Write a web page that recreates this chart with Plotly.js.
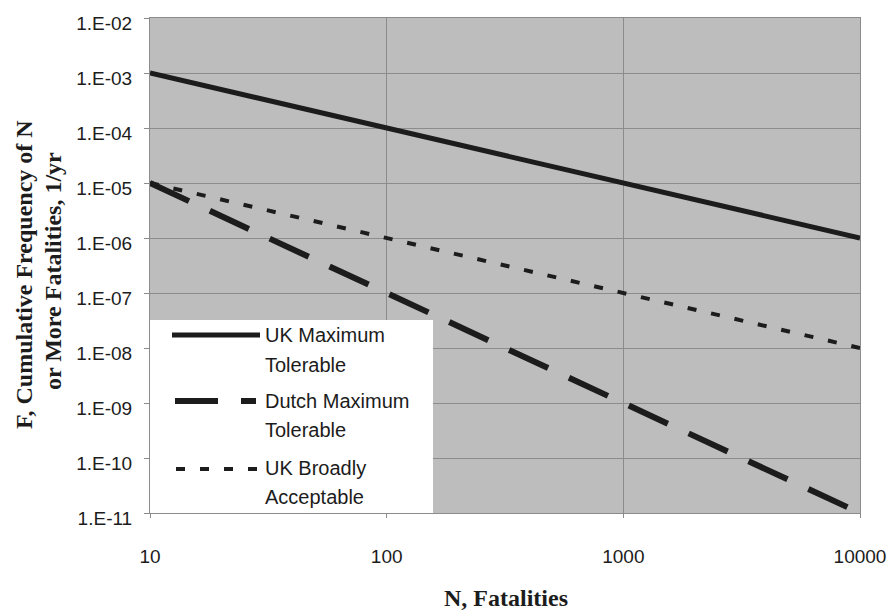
<!DOCTYPE html>
<html>
<head>
<meta charset="utf-8">
<script src="https://cdn.plot.ly/plotly-3.0.1.min.js"></script>
<style>html,body{margin:0;padding:0;background:#fff;}#chart{width:895px;height:612px;}</style>
</head>
<body>
<div id="chart"></div>
<script>
// ---- data ----
var fatalities = [10, 100, 1000, 10000];
var ukMaxTolerable = [1e-3, 1e-4, 1e-5, 1e-6];
var dutchMaxTolerable = [1e-5, 1e-7, 1e-9, 1e-11];
var ukBroadlyAcceptable = [1e-5, 1e-6, 1e-7, 1e-8];
var seriesNames = ['UK Maximum|Tolerable', 'Dutch Maximum|Tolerable', 'UK Broadly|Acceptable'];
var xTickVals = [10, 100, 1000, 10000];
var xTickText = ['10', '100', '1000', '10000'];
var yTickVals = [1e-11, 1e-10, 1e-9, 1e-8, 1e-7, 1e-6, 1e-5, 1e-4, 1e-3, 1e-2];
var yTickText = ['1.E-11', '1.E-10', '1.E-09', '1.E-08', '1.E-07', '1.E-06', '1.E-05', '1.E-04', '1.E-03', '1.E-02'];
var xTitle = 'N, Fatalities';
var yTitleLines = ['F, Cumulative Frequency of N', 'or More Fatalities, 1/yr'];

// ---- layout geometry (pixels) ----
var W = 895, H = 612, L = 150, R = 35, T = 18, B = 99;
var PW = W - L - R, PH = H - T - B;
function px(x) { return (x - L) / PW; }
function py(y) { return (T + PH - y) / PH; }

var ink = '#1c1c1c';
var dashes = ['solid', '43px,23px', '9px,15px'];
var widths = [5, 6, 4];
var series = [ukMaxTolerable, dutchMaxTolerable, ukBroadlyAcceptable];

var traces = series.map(function (s, i) {
  return {
    x: fatalities, y: s, type: 'scatter', mode: 'lines',
    name: seriesNames[i].replace('|', ' '),
    line: { color: ink, width: widths[i], dash: dashes[i] },
    hoverinfo: 'x+y'
  };
});

// manual legend
var legendBox = { x0: 150, x1: 433, y0: 320, y1: 513 };
var sampleRows = [335, 401, 469];
var sampleX = [[172, 260], [175, 256], [176, 257]];
var textRows = [[335, 365], [401, 430], [468, 497]];

var shapes = [{
  type: 'rect', xref: 'paper', yref: 'paper', layer: 'above',
  x0: px(legendBox.x0), x1: px(legendBox.x1), y0: py(legendBox.y1), y1: py(legendBox.y0),
  fillcolor: '#ffffff', line: { width: 0 }
}];
var annotations = [];
seriesNames.forEach(function (nm, i) {
  shapes.push({
    type: 'line', xref: 'paper', yref: 'paper', layer: 'above',
    x0: px(sampleX[i][0]), x1: px(sampleX[i][1]), y0: py(sampleRows[i]), y1: py(sampleRows[i]),
    line: { color: ink, width: widths[i], dash: dashes[i] }
  });
  nm.split('|').forEach(function (part, j) {
    annotations.push({
      xref: 'paper', yref: 'paper', x: px(263), y: py(textRows[i][j]),
      xanchor: 'left', yanchor: 'middle', showarrow: false, text: part,
      font: { family: 'Liberation Sans, Arial, sans-serif', size: 20, color: ink }
    });
  });
});
// axis titles
annotations.push({
  xref: 'paper', yref: 'paper', x: px(506), y: py(598), xanchor: 'center', yanchor: 'middle',
  showarrow: false, text: '<b>' + xTitle + '</b>',
  font: { family: 'Liberation Serif, Times New Roman, serif', size: 24, color: ink }
});
[[24, 275], [53, 271]].forEach(function (pos, i) {
  annotations.push({
    xref: 'paper', yref: 'paper', x: px(pos[0]), y: py(pos[1]), xanchor: 'center', yanchor: 'middle',
    textangle: -90, showarrow: false, text: '<b>' + yTitleLines[i] + '</b>',
    font: { family: 'Liberation Serif, Times New Roman, serif', size: 24, color: ink }
  });
});

var layout = {
  width: W, height: H,
  margin: { l: L, r: R, t: T, b: B, pad: 0 },
  paper_bgcolor: '#ffffff', plot_bgcolor: '#bdbdbd',
  showlegend: false,
  font: { family: 'Liberation Sans, Arial, sans-serif', size: 19, color: ink },
  xaxis: {
    type: 'log', range: [1, 4], tickmode: 'array', tickvals: xTickVals, ticktext: xTickText,
    showgrid: true, gridcolor: '#8c8c8c', gridwidth: 1,
    showline: true, mirror: true, linecolor: '#8c8c8c', linewidth: 1,
    ticks: 'outside', ticklen: 4, tickcolor: '#8c8c8c',
    ticklabelstandoff: 22, zeroline: false,
    tickfont: { size: 19, color: ink }
  },
  yaxis: {
    type: 'log', range: [-11, -2], tickmode: 'array', tickvals: yTickVals, ticktext: yTickText,
    showgrid: true, gridcolor: '#8c8c8c', gridwidth: 1,
    showline: true, mirror: true, linecolor: '#8c8c8c', linewidth: 1,
    ticks: 'outside', ticklen: 5, tickcolor: '#8c8c8c',
    ticklabelstandoff: 8, ticklabelshift: 5, zeroline: false,
    tickfont: { size: 19, color: ink }
  },
  shapes: shapes,
  annotations: annotations
};

Plotly.newPlot('chart', traces, layout, { displayModeBar: false, staticPlot: true });
</script>
</body>
</html>
